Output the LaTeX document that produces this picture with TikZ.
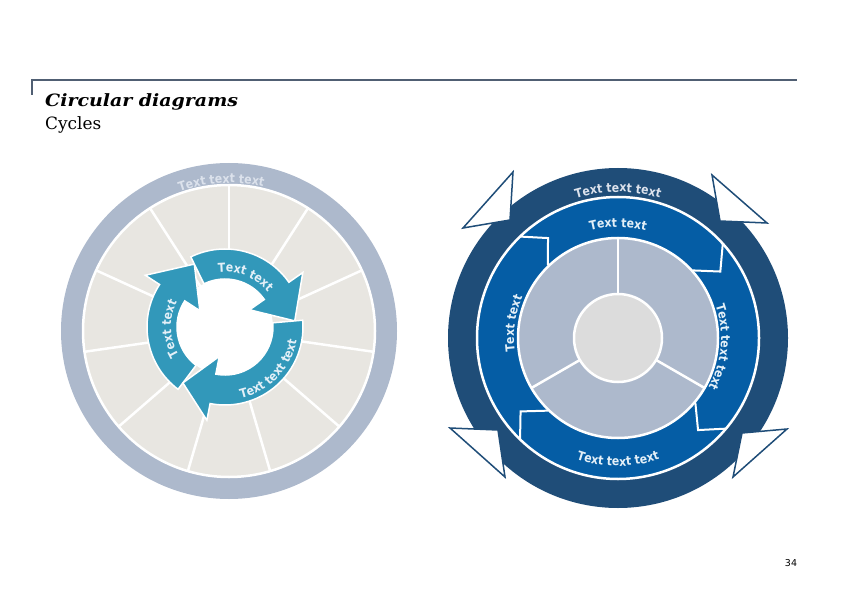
\documentclass[tikz,border=0pt]{standalone}
\usepackage{fontspec}
\setmainfont{DejaVu Serif}
\newfontfamily\sansdiag[FakeStretch=0.88]{DejaVu Sans}
\newfontfamily\sanspage{DejaVu Sans}
\usetikzlibrary{decorations.text}
\definecolor{anneaugris}{RGB}{173,185,204}
\definecolor{fondclair}{RGB}{232,230,225}
\definecolor{sarcelle}{RGB}{50,152,186}
\definecolor{bleufonce}{RGB}{31,77,120}
\definecolor{bleumoyen}{RGB}{5,93,165}
\definecolor{grismilieu}{RGB}{220,220,220}
\definecolor{titrefilet}{RGB}{80,95,115}
\definecolor{texteanneau}{RGB}{220,226,236}
\definecolor{texteclair}{RGB}{228,240,248}
\newcommand{\petit}{\sansdiag\bfseries\fontsize{12.5}{14}\selectfont}

\begin{document}
\begin{tikzpicture}[x=1bp,y=-1bp]
\tikzstyle{filet} = [draw=titrefilet]
\tikzstyle{arctexte} = [decorate, decoration={text along path, text align=center}]
\tikzstyle{fleche} = [fill=sarcelle, draw=white, line width=1.5bp, line join=miter]
\tikzstyle{triangle} = [fill=white, draw=bleufonce, line width=1.5bp, line join=miter]
\tikzstyle{trait} = [draw=white, line width=2.5bp]

\useasboundingbox (0,0) rectangle (842,595);

%en-tête
\draw[filet, line width=2bp] (31,80) -- (797,80);
\draw[filet, line width=1.5bp] (32,79) -- (32,95);
\node[anchor=base west, inner sep=0pt, font=\fontsize{17}{20}\selectfont\bfseries\itshape] (titre) at (45,107) {\scalebox{1.12}[1]{Circular diagrams}};
\node[anchor=base west, inner sep=0pt, font=\fontsize{17}{20}\selectfont] (soustitre) at (45,130) {Cycles};
\node[anchor=base, inner sep=0pt, font=\sanspage\fontsize{9.5}{10}\selectfont] (page) at (791,566) {34};

%diagramme de gauche : anneau et secteurs
\begin{scope}[shift={(229,331)},y=1bp]
\fill[anneaugris] (0,0) circle (168);
\filldraw[fill=fondclair, trait] (0,0) circle (146);
\foreach \k in {0,...,10}
  \draw[trait] (0,0) -- ({90+\k*360/11}:146);
\path[arctexte, decoration={text color=texteanneau, text={|\petit|Text text text}}] (140:148) arc[start angle=140, end angle=46, radius=148];
\end{scope}

%les trois flèches
\begin{scope}[shift={(225,327)},y=1bp]
\fill[white] (0,0) circle (48);
\foreach \q/\b/\p in {233/147/116, 116/35/5, 5/-101/-127}
  \filldraw[fleche] (\q:48) -- (\q:78) arc[start angle=\q, end angle=\b, radius=78] -- (\b:95) -- (\p:70) -- (\b:30) -- (\b:48) arc[start angle=\b, end angle=\q, radius=48] -- cycle;
\path[arctexte, decoration={text color=texteclair, text={|\petit|Text text}}] (240:54) arc[start angle=240, end angle=124, radius=54];
\path[arctexte, decoration={text color=texteclair, text={|\petit|Text text}}] (126:55) arc[start angle=126, end angle=10, radius=55];
\path[arctexte, decoration={text color=texteclair, text={|\petit|Text text text}}] (-110:73) arc[start angle=-110, end angle=22, radius=73];
\end{scope}

%diagramme de droite
\begin{scope}[shift={(618,338)},y=1bp]
\fill[bleufonce] (0,0) circle (170);
\filldraw[fill=bleumoyen, trait] (0,0) circle (141);
\filldraw[fill=anneaugris, trait] (0,0) circle (100);
\foreach \a in {90,210,330}
  \draw[trait] (0,0) -- (\a:100);
\filldraw[fill=grismilieu, trait] (0,0) circle (44);
\foreach \a in {42,134,226,320}
  \draw[trait, line width=2bp] (\a:141) -- ({\a-9}:122) -- (\a:101);
\path[arctexte, decoration={text color=texteanneau, text={|\petit|Text text text}}] (130:146) arc[start angle=130, end angle=50, radius=146];
\path[arctexte, decoration={text color=texteclair, text={|\petit|Text text}}] (135:111) arc[start angle=135, end angle=45, radius=111];
\path[arctexte, decoration={text color=texteclair, text={|\petit|Text text}}] (215:104) arc[start angle=215, end angle=129, radius=104];
\path[arctexte, decoration={text color=texteclair, text={|\petit|Text text text}}] (40:103) arc[start angle=40, end angle=-50, radius=103];
\path[arctexte, decoration={text color=texteclair, text={|\petit|Text text text}}] (-135:128) arc[start angle=-135, end angle=-45, radius=128];
\end{scope}

%pointes blanches
\filldraw[triangle] (513,172) -- (463,228) -- (510,220) -- cycle;
\filldraw[triangle] (712,175) -- (767,223) -- (720,221) -- cycle;
\filldraw[triangle] (450,428) -- (498,430) -- (505,477) -- cycle;
\filldraw[triangle] (787,429) -- (742,433) -- (733,477) -- cycle;
\end{tikzpicture}
\end{document}
